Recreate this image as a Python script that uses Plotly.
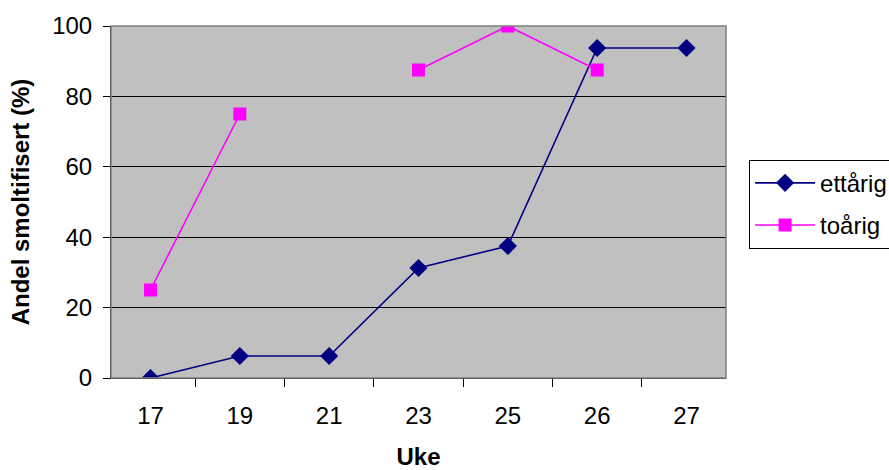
import plotly.graph_objects as go

# Week numbers (categorical x axis)
uke = ["17", "19", "21", "23", "25", "26", "27"]

# Share smoltified (%) per age group; None marks weeks without a sample
ettarig = [0, 6.25, 6.25, 31.25, 37.5, 93.75, 93.75]
toarig = [25, 75, None, 87.5, 100, 87.5, None]

y_ticks = [0, 20, 40, 60, 80, 100]

FONT = "Liberation Sans, Arial, sans-serif"

fig = go.Figure()
fig.add_trace(go.Scatter(
    x=uke, y=ettarig, name="ettårig", mode="lines+markers", legendgroup="a",
    line=dict(color="#000080", width=1.6),
    marker=dict(symbol="diamond", size=14, color="#000080"),
    connectgaps=False,
))
fig.add_trace(go.Scatter(
    x=uke, y=toarig, name="toårig", mode="lines+markers", legendgroup="b",
    line=dict(color="#FF00FF", width=1.6),
    marker=dict(symbol="square", size=13, color="#FF00FF"),
    connectgaps=False,
))

# Gray frame around the plot area (top/right edges)
fig.add_shape(type="rect", xref="paper", yref="paper", x0=0, x1=1, y0=0, y1=1,
              line=dict(color="#808080", width=1.5), fillcolor="rgba(0,0,0,0)",
              layer="above")

fig.update_layout(
    width=889, height=470,
    margin=dict(l=111, r=163, t=26, b=92, autoexpand=False),
    paper_bgcolor="white",
    plot_bgcolor="#C0C0C0",
    font=dict(family=FONT, size=24, color="black"),
    showlegend=True,
    legend=dict(
        x=1.0375, y=0.62, xanchor="left", yanchor="top",
        bgcolor="white", bordercolor="black", borderwidth=1,
        font=dict(family=FONT, size=24, color="black"),
        tracegroupgap=8, itemwidth=60,
    ),
    xaxis=dict(
        type="category", categoryorder="array", categoryarray=uke,
        tickson="boundaries", ticks="outside", ticklen=8, tickcolor="black",
        showline=True, linecolor="black", linewidth=1,
        showgrid=False, zeroline=False, automargin=False,
        tickfont=dict(size=24), ticklabelstandoff=16,
        title=dict(text="<b>Uke</b>", font=dict(size=24), standoff=26),
        fixedrange=True,
    ),
    yaxis=dict(
        range=[0, 100], tickvals=y_ticks, ticks="outside", ticklen=7,
        tickcolor="black", showline=True, linecolor="black", linewidth=1,
        showgrid=True, gridcolor="black", gridwidth=1, zeroline=False,
        automargin=False,
        tickfont=dict(size=24), ticklabelstandoff=6,
        title=dict(text="<b>Andel smoltifisert (%)</b>", font=dict(size=24), standoff=15),
        fixedrange=True,
    ),
)

fig.write_html("out.html")
